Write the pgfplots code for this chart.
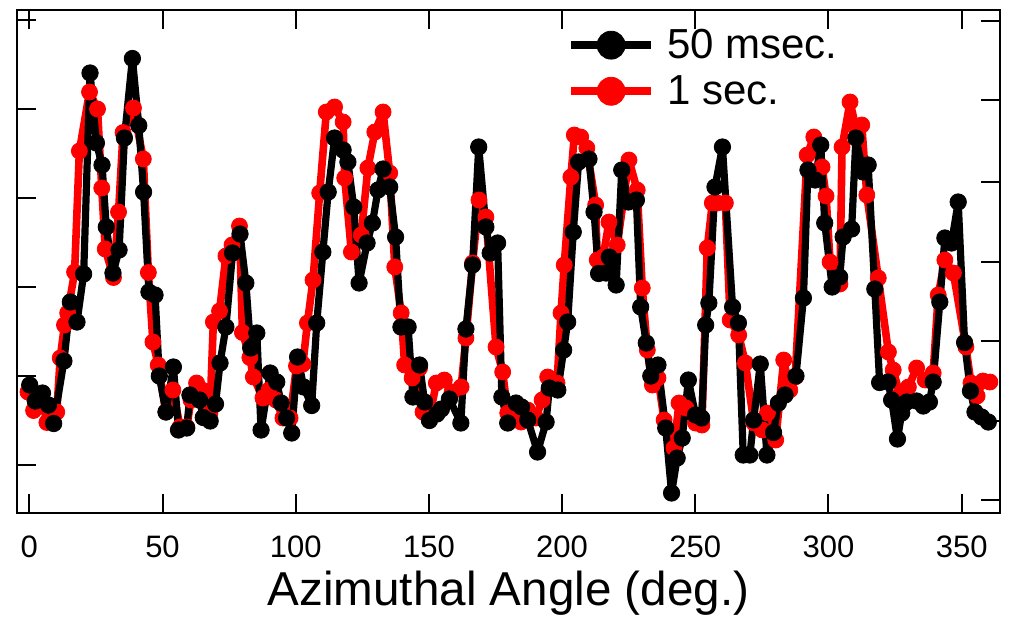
\documentclass[border=0pt]{standalone}
\usepackage{fontspec}
\setmainfont{Liberation Sans}
\usepackage{pgfplots}
\pgfplotsset{compat=1.18}
\usepackage{pgfplotstable}

\pgfplotstableread{
x y
0.15 128
2.25 112
4.95 120
7.2 108
9.15 89.5
13.0 152
15.4 211
17.9 191
20.4 239
22.8 440
25.2 370
27.3 348
28.9 286
31.4 240
33.7 263
35.7 375
38.7 454.5
41.1 387.5
42.9 321
44.9 221
47.2 218
48.8 137
51.3 101
54.1 146
56.0 83
59.1 85
60.3 118
63.9 113
65.3 95.5
67.9 92
69.9 109
71.6 150
73.8 186
76.3 260
79.1 279
81.3 230
83.1 165
85.4 180
87.0 83
90.4 140
92.9 131
94.5 110
96.6 95
98.5 80
100.7 156
103.0 126
106.0 107.5
107.9 190
110.2 261
112.2 321
114.6 375
117.8 363
119.6 351
121.8 306
123.8 230
126.8 270
128.8 290
130.9 323
132.8 344
135.3 326
137.5 276
139.5 186
142.2 186
144.0 116
146.5 148
148.4 111
150.2 92.5
153.0 99
154.7 104
157.7 114
162.0 90
163.9 184
166.4 248
168.7 366
171.4 286
173.0 260
175.8 270
177.4 116
179.6 90
182.7 110
184.8 106
187.1 93
190.8 61
194.0 91
195.2 125
198.4 123
200.6 163
202.1 191
204.2 281
206.2 351
210.1 354
212.0 301
213.7 239.5
216.5 240
217.7 256
220.3 228
222.4 343
224.9 311
227.9 313
229.5 206
231.6 170
233.3 137
236.0 148
238.9 85
241.1 20
243.2 55
245.1 75
247.4 133
250.1 98
252.4 95
253.9 188
255.1 210
257.4 326
260.2 366
264.0 206
266.2 190
268.0 58
270.5 58
271.9 93
274.4 149
276.9 58
279.4 80.5
281.2 110
283.7 118
287.8 137
290.6 215
292.3 343
295.0 333
297.1 368
298.6 290
301.4 226
304.2 236
305.5 276
308.7 284
310.3 375
313.0 341
314.9 348
317.4 224
319.2 130.5
322.4 131
323.7 113
325.9 74
327.5 100
329.4 111
333.1 112
335.6 107
337.9 111
339.3 131
341.8 211
343.7 275
346.2 270
348.7 311
351.1 170.5
353.3 122
355.0 101
357.5 96
360.0 91
}\blackdata

\pgfplotstableread{
x y
-0.5 121
1.6 102.5
4.8 113
6.6 90.5
10.3 101
11.6 155
13.2 188
14.4 200
17.0 241
18.8 362
22.6 421
25.6 404
27.2 325
28.5 264
31.6 235.5
33.5 301
35.2 380.5
39.1 405
42.8 354
44.7 240.5
46.4 171
48.4 148
51.3 101
53.9 123
56.6 86
59.1 86
60.7 113
62.8 130
64.8 123
67.8 100
69.1 191
71.4 202
73.8 257
76.1 268
78.9 287
80.0 180.5
82.8 155.5
84.1 136
87.7 115
90.0 123
92.6 113
95.2 95
97.9 95
100.3 147
102.7 149
104.4 190
106.5 233
109.0 320
111.5 401
114.6 406
117.8 391
118.4 335
120.9 261
124.6 278
127.1 345
129.7 381
132.8 401
135.3 340
137.2 246
139.6 200
140.9 148
143.7 135
146.5 145
147.8 101
150.4 98
152.8 130
155.8 133
158.7 121
162.1 126
163.9 175
166.4 250
168.8 313
171.4 296
175.2 166
177.7 141
179.6 100
181.9 93
184.6 91
187.1 103
190.2 95
192.5 113
194.6 136
196.6 130
198.1 130
199.6 200
200.8 248
203.3 336
204.6 378
207.0 376
209.3 365
212.6 308
213.2 253
215.4 256
217.6 291
220.7 268
225.1 353
228.2 323
230.1 225
232.0 163
233.9 128
236.0 135
238.3 93
242.0 65
243.9 110
246.5 105
250.1 90
252.5 88
254.5 265
256.4 310
258.2 310
261.3 310
263.1 193
266.3 178
268.8 150
272.0 90
275.2 83
277.1 100
280.2 73
283.2 153
285.5 123
287.5 136
292.0 358
294.5 376
297.6 346
299.1 317
300.6 251
304.3 229
305.1 366
308.1 411
310.3 385
312.5 388
314.4 318
318.7 235
322.5 161
324.3 143
326.8 118
330.0 126
333.1 145
336.3 133
339.3 140
341.2 218
343.7 253
346.9 240
351.6 166
353.5 130
355.8 117
358.0 132
360.6 131
}\reddata

\begin{document}
\begin{tikzpicture}
\path[use as bounding box] (-8.5pt,-52.5pt) rectangle (496.5pt,256.5pt);
\begin{axis}[
  scale only axis, width=491.5pt, height=251.5pt,
  xmin=-4.62, xmax=364.4, ymin=0, ymax=503,
  xtick={0,50,...,350},
  ytick={48,137,226,315,404,493}, yticklabels={},
  xtick pos=both, ytick pos=left, tick align=inside,
  major tick length=9.5pt,
  every tick/.style={black, line width=1pt},
  axis line style={line width=1pt},
  /pgf/number format/assume math mode=true,
  xticklabel style={font=\fontsize{15.5}{18}\selectfont, anchor=base, yshift=-22pt},
  xlabel={Azimuthal Angle (deg.)},
  xlabel style={font=\fontsize{23.8}{28}\selectfont, at={(axis description cs:0.5,0)}, anchor=base, yshift=-46pt},
  legend style={at={(axis description cs:0.559,0.971)}, anchor=north west, draw=none, fill=none,
    font=\fontsize{21}{25}\selectfont, inner sep=0pt, row sep=3pt, column sep=4pt},
  legend cell align=left,
  reverse legend,
  legend image code/.code={\draw[mark repeat=2,mark phase=2,#1,line width=4.2pt,mark size=7pt] plot coordinates {(0pt,0pt) (20pt,0pt) (40pt,0pt)};},
]
\addplot[red, line width=3.8pt, line join=round, mark=*, mark size=4pt, mark options={line width=0.4pt, fill=red}] table[x=x,y=y] {\reddata};
\addlegendentry{1 sec.}
\addplot[black, line width=3.6pt, line join=round, mark=*, mark size=4.1pt, mark options={line width=0.4pt, fill=black}] table[x=x,y=y] {\blackdata};
\addlegendentry{50 msec.}
\end{axis}
\begin{axis}[
  scale only axis, width=491.5pt, height=251.5pt,
  xmin=-4.62, xmax=364.4, ymin=0, ymax=503,
  hide x axis,
  ytick={13,92.3,172,251.3,331.3,413,492.3}, yticklabels={},
  ytick pos=right, tick align=inside,
  major tick length=9.5pt,
  every tick/.style={black, line width=1pt},
  axis line style={line width=1pt},
]
\addplot[draw=none] coordinates {(0,0)};
\end{axis}
\end{tikzpicture}
\end{document}
